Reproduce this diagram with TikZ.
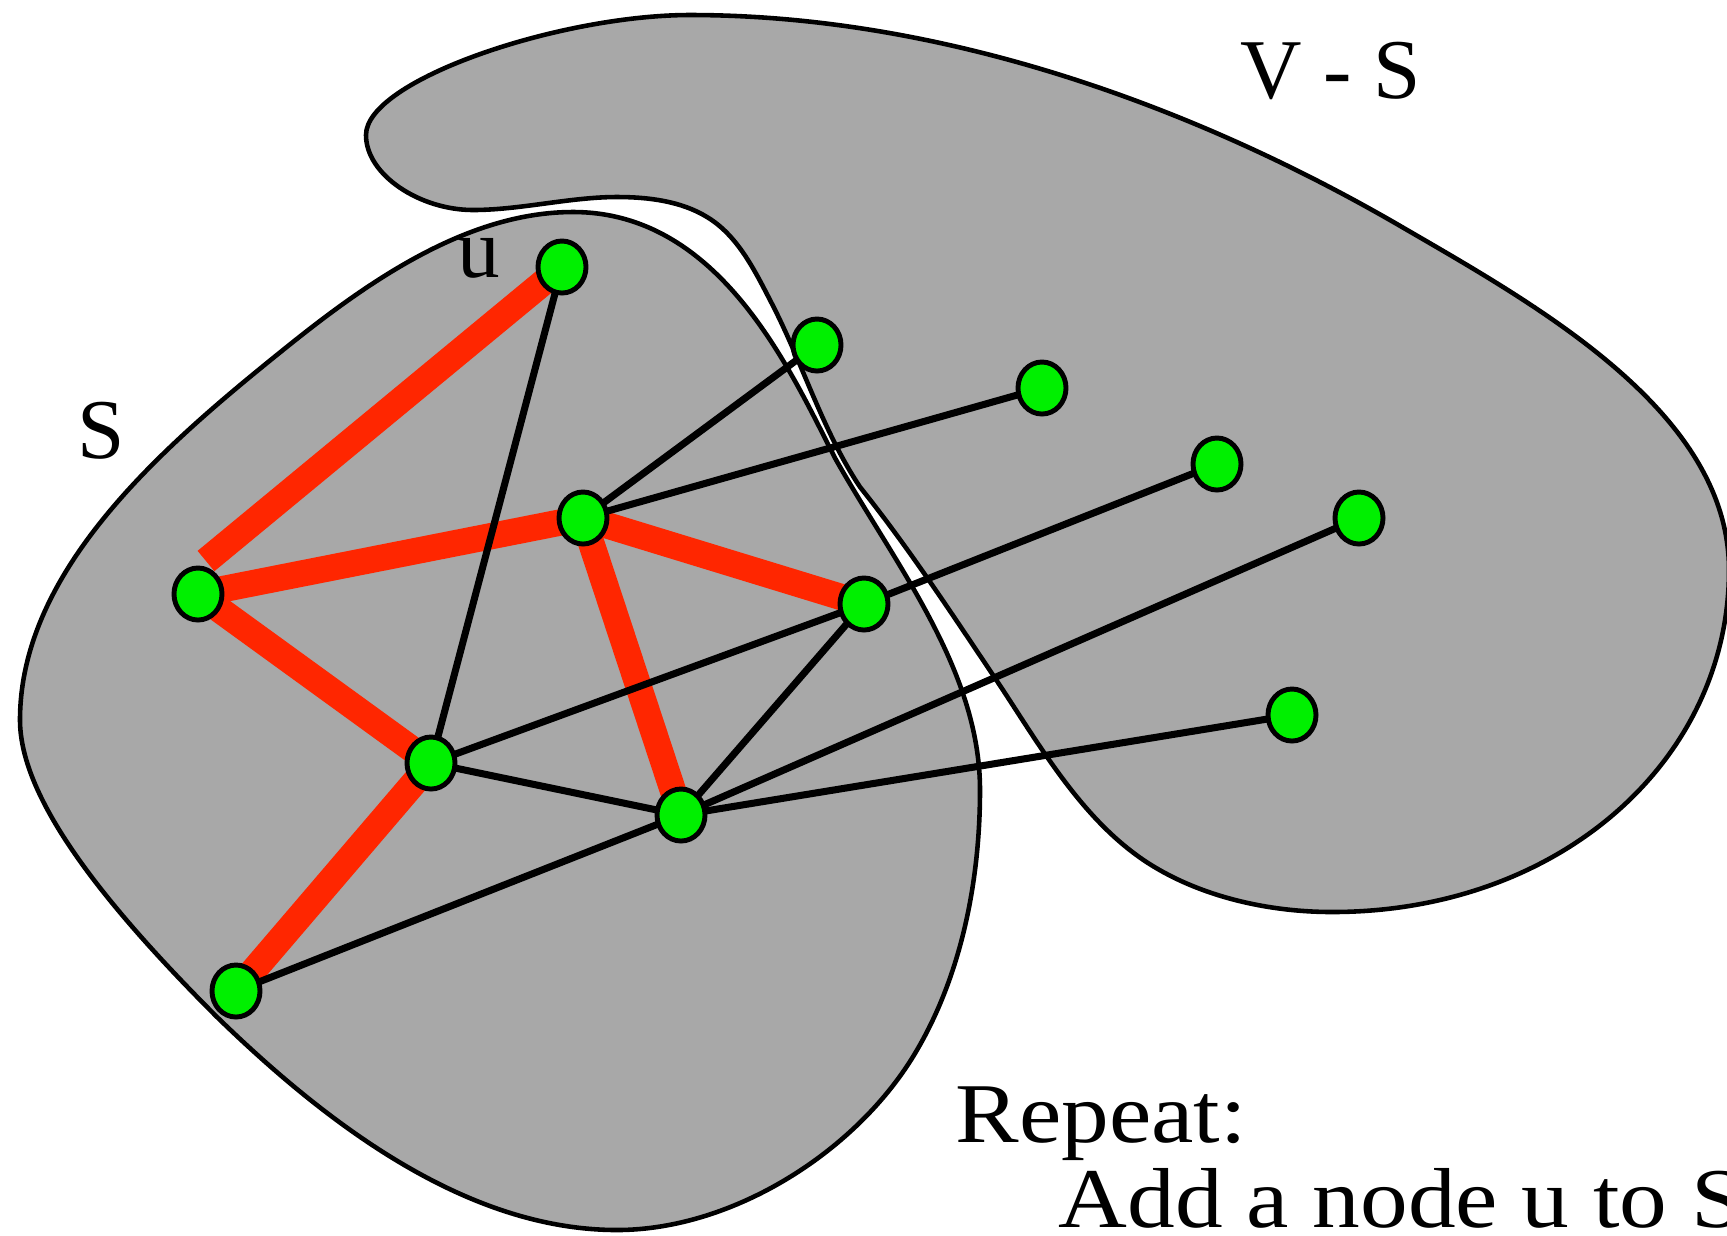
\documentclass[tikz,border=0pt]{standalone}
\usepackage{fontspec}
\setmainfont{Liberation Serif}
\newfontfamily\widefont[FakeStretch=1.12]{Liberation Serif}
\usepackage{xcolor,tikz}
\usetikzlibrary{shapes.geometric}
\definecolor{setgray}{HTML}{A8A8A8}
\definecolor{vgreen}{HTML}{00F000}
\definecolor{tred}{HTML}{FF2600}
\pgfdeclarelayer{bg}
\pgfsetlayers{bg,main}
% outline of S
\newcommand{\sblob}[1]{\path[#1] (573,212) .. controls (720,212) and (790,370) .. (835,458)
  .. controls (894,563) and (980,669) .. (980,790)
  .. controls (980,879) and (962,973) .. (917,1050)
  .. controls (859,1150) and (734,1230) .. (617,1230)
  .. controls (466,1230) and (326,1123) .. (217,1017)
  .. controls (107,907) and (20,800) .. (20,720)
  .. controls (20,569) and (165,445) .. (283,350)
  .. controls (366,283) and (466,212) .. (573,212) -- cycle;}
% outline of V - S
\newcommand{\vsblob}[1]{\path[#1] (366,135) .. controls (366,80) and (560,15) .. (690,15)
  .. controls (938,15) and (1189,103) .. (1402,227)
  .. controls (1538,306) and (1729,412) .. (1729,570)
  .. controls (1729,760) and (1560,912) .. (1332,912)
  .. controls (1269,912) and (1201,897) .. (1148,863)
  .. controls (1080,819) and (1038,742) .. (993,675)
  .. controls (950,611) and (908,547) .. (860,487)
  .. controls (822,430) and (802,361) .. (770,300)
  .. controls (754,269) and (737,235) .. (707,217)
  .. controls (681,201) and (648,197) .. (617,197)
  .. controls (570,197) and (520,210) .. (473,210)
  .. controls (420,210) and (366,175) .. (366,135) -- cycle;}
\begin{document}
\begin{tikzpicture}[x=0.01cm,y=-0.01cm,
  outline/.style={draw,line width=1.3pt},
  vtx/.style={ellipse,draw,line width=1.4pt,fill=vgreen,inner sep=0pt,minimum width=0.48cm,minimum height=0.52cm},
  tree/.style={draw=tred,line width=7.5pt},
  link/.style={draw,line width=2pt},
  lbl/.style={font=\fontsize{24.2}{29}\selectfont,inner sep=0pt,anchor=base west},
  wide/.style={lbl,font=\widefont\fontsize{24.2}{29}\selectfont}]
\useasboundingbox (0,0) rectangle (1727,1235);
\clip (0,0) rectangle (1727,1235);
% vertices inside S
\node[vtx] (u) at (562,267) {};
\node[vtx] (a) at (198,594) {};
\node[vtx] (b) at (583,518) {};
\node[vtx] (c) at (864,604) {};
\node[vtx] (d) at (431,763) {};
\node[vtx] (e) at (681,815) {};
\node[vtx] (f) at (236,991) {};
% vertices in V - S
\node[vtx] (g) at (817,345) {};
\node[vtx] (h) at (1042,388) {};
\node[vtx] (i) at (1217,464) {};
\node[vtx] (j) at (1359,518) {};
\node[vtx] (k) at (1292,715) {};
\coordinate (uend) at (206,561);
\begin{pgfonlayer}{bg}
% the two sets
\sblob{fill=setgray}
\vsblob{fill=setgray}
\sblob{outline}
\vsblob{outline}
% tree edges
\path[tree] (u.center) -- (uend);
\path[tree] (a.center) -- (b.center) -- (c.center);
\path[tree] (a.center) -- (d.center) -- (f.center);
\path[tree] (b.center) -- (e.center);
% other edges
\path[link] (u.center) -- (d.center);
\path[link] (b.center) -- (g.center);
\path[link] (b.center) -- (h.center);
\path[link] (d.center) -- (c.center) -- (i.center);
\path[link] (d.center) -- (e.center) -- (c.center);
\path[link] (f.center) -- (e.center) -- (j.center);
\path[link] (e.center) -- (k.center);
\end{pgfonlayer}
\node[lbl] (vs) at (1240,98) {V - S};
\node[lbl] (sl) at (77,458) {S};
\node[lbl] (ul) at (457,277) {u};
\node[wide] (rep) at (955,1142) {Repeat:};
\node[wide] (add) at (1058,1227) {Add a node u to S};
\end{tikzpicture}
\end{document}
